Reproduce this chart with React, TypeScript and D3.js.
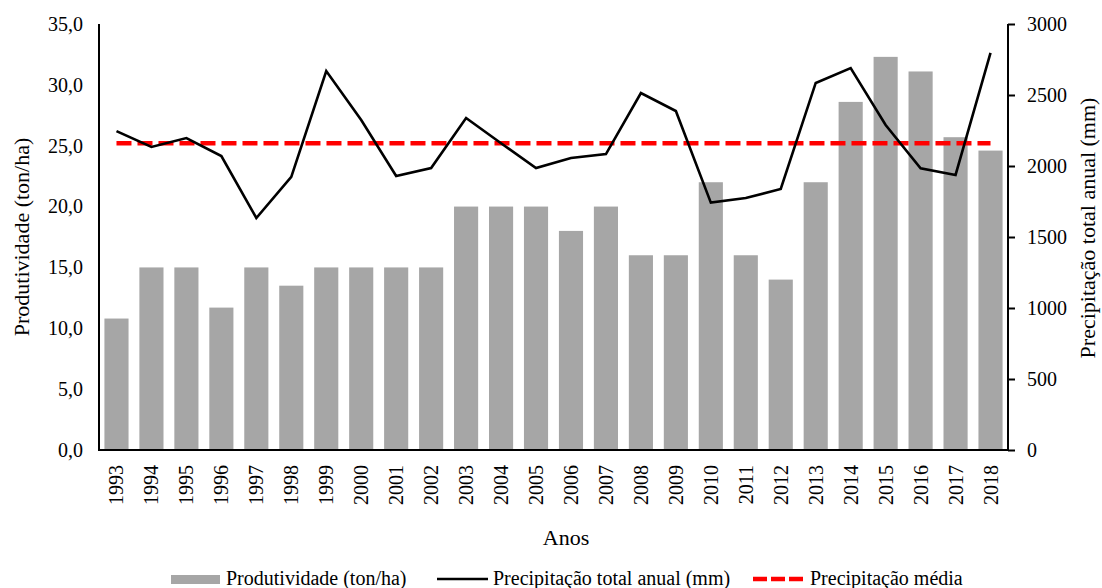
import * as d3 from 'd3';
import { useEffect, useRef } from 'react';

const years = [
  '1993', '1994', '1995', '1996', '1997', '1998', '1999', '2000', '2001', '2002', '2003', '2004', '2005',
  '2006', '2007', '2008', '2009', '2010', '2011', '2012', '2013', '2014', '2015', '2016', '2017', '2018'
];

// Produtividade (ton/ha)
const productivity = [
  10.8, 15, 15, 11.7, 15, 13.5, 15, 15, 15, 15, 20, 20, 20,
  18, 20, 16, 16, 22, 16, 14, 22, 28.6, 32.3, 31.1, 25.7, 24.6
];

// Precipitação total anual (mm)
const precipitation = [
  2246, 2134, 2197, 2070, 1634, 1923, 2669, 2324, 1930, 1986, 2338, 2160, 1986,
  2056, 2084, 2514, 2387, 1742, 1775, 1838, 2585, 2690, 2289, 1984, 1937, 2796
];

const precipitationMean = 2160;

const leftTicks = [0, 5, 10, 15, 20, 25, 30, 35];
const rightTicks = [0, 500, 1000, 1500, 2000, 2500, 3000];

const WIDTH = 1102;
const HEIGHT = 588;
const FONT = '"Liberation Serif", "Times New Roman", serif';

export default function App() {
  const svgRef = useRef<SVGSVGElement>(null);

  const drawChart = () => {
    const svgEl = d3.select(svgRef.current);
    svgEl.selectAll('*').remove();

    const plot = { left: 99, right: 1008, top: 24, bottom: 450 };

    const xScale = d3.scaleBand().domain(years).range([plot.left, plot.right]).paddingInner(0.31).paddingOuter(0.155);
    const xCenter = (year: string) => xScale(year)! + xScale.bandwidth() / 2;
    const yLeft = d3.scaleLinear().domain([0, 35]).range([plot.bottom, plot.top]);
    const yRight = d3.scaleLinear().domain([0, 3000]).range([plot.bottom, plot.top]);

    // bars
    svgEl
      .append('g')
      .selectAll('rect')
      .data(years)
      .enter()
      .append('rect')
      .attr('x', (d) => xScale(d)!)
      .attr('width', xScale.bandwidth())
      .attr('y', (_, i) => yLeft(productivity[i]))
      .attr('height', (_, i) => yLeft(0) - yLeft(productivity[i]))
      .attr('fill', '#a6a6a6');

    // mean precipitation
    svgEl
      .append('line')
      .attr('x1', xCenter(years[0]))
      .attr('x2', xCenter(years[years.length - 1]))
      .attr('y1', yRight(precipitationMean))
      .attr('y2', yRight(precipitationMean))
      .attr('stroke', '#ff0000')
      .attr('stroke-width', 4.5)
      .attr('stroke-dasharray', '15 6');

    // precipitation line
    const line = d3
      .line<number>()
      .x((_, i) => xCenter(years[i]))
      .y((d) => yRight(d));

    svgEl
      .append('path')
      .datum(precipitation)
      .attr('d', line)
      .attr('fill', 'none')
      .attr('stroke', '#000')
      .attr('stroke-width', 2.6);

    // left axis
    svgEl
      .append('g')
      .attr('transform', `translate(${plot.left},0)`)
      .call(
        d3
          .axisLeft(yLeft)
          .tickValues(leftTicks)
          .tickSize(0)
          .tickPadding(16)
          .tickFormat((d) => d3.format('.1f')(d as number).replace('.', ','))
      )
      .call((g) => {
        g.select('.domain').attr('stroke', '#000').attr('stroke-width', 2).attr('d', `M0,${plot.top}V${plot.bottom}`);
        g.selectAll('text').attr('font-family', FONT).attr('font-size', 20).attr('fill', '#000');
      });

    // right axis
    svgEl
      .append('g')
      .attr('transform', `translate(${plot.right},0)`)
      .call(d3.axisRight(yRight).tickValues(rightTicks).tickSize(7).tickPadding(12).tickFormat(d3.format('d')))
      .call((g) => {
        g.select('.domain').attr('stroke', '#000').attr('stroke-width', 2).attr('d', `M0,${plot.top}V${plot.bottom}`);
        g.selectAll('.tick line').attr('stroke', '#000').attr('stroke-width', 2);
        g.selectAll('text').attr('font-family', FONT).attr('font-size', 20).attr('fill', '#000');
      });

    // bottom axis
    svgEl
      .append('g')
      .attr('transform', `translate(0,${plot.bottom})`)
      .call(d3.axisBottom(xScale).tickSize(0))
      .call((g) => {
        g.select('.domain').attr('stroke', '#000').attr('stroke-width', 2).attr('d', `M${plot.left - 1},0H${plot.right + 1}`);
        g.selectAll('text')
          .attr('font-family', FONT)
          .attr('font-size', 20)
          .attr('fill', '#000')
          .attr('text-anchor', 'end')
          .attr('dy', '0.35em')
          .attr('transform', 'translate(0,15) rotate(-90)')
          .attr('x', 0)
          .attr('y', 0);
      });

    // axis titles
    svgEl
      .append('text')
      .attr('transform', `translate(29,${(plot.top + plot.bottom) / 2}) rotate(-90)`)
      .attr('text-anchor', 'middle')
      .attr('font-family', FONT)
      .attr('font-size', 22)
      .text('Produtividade (ton/ha)');

    svgEl
      .append('text')
      .attr('transform', `translate(1095,228) rotate(-90)`)
      .attr('text-anchor', 'middle')
      .attr('font-family', FONT)
      .attr('font-size', 22)
      .text('Precipitação total anual (mm)');

    svgEl
      .append('text')
      .attr('x', 566)
      .attr('y', 545)
      .attr('text-anchor', 'middle')
      .attr('font-family', FONT)
      .attr('font-size', 22)
      .text('Anos');

    // legend
    const legend = svgEl.append('g').attr('font-family', FONT).attr('font-size', 20);
    const legendY = 579;

    legend.append('rect').attr('x', 171).attr('y', legendY - 4).attr('width', 49).attr('height', 9).attr('fill', '#a6a6a6');
    legend.append('text').attr('x', 226).attr('y', legendY + 6).text('Produtividade (ton/ha)');

    legend
      .append('line')
      .attr('x1', 437)
      .attr('x2', 488)
      .attr('y1', legendY)
      .attr('y2', legendY)
      .attr('stroke', '#000')
      .attr('stroke-width', 2.6);
    legend.append('text').attr('x', 493).attr('y', legendY + 6).text('Precipitação total anual (mm)');

    legend
      .append('line')
      .attr('x1', 753)
      .attr('x2', 803)
      .attr('y1', legendY)
      .attr('y2', legendY)
      .attr('stroke', '#ff0000')
      .attr('stroke-width', 4.5)
      .attr('stroke-dasharray', '14 4');
    legend.append('text').attr('x', 810).attr('y', legendY + 6).text('Precipitação média');
  };

  useEffect(() => {
    drawChart();
  }, []);

  return (
    <div style={{ position: 'absolute', left: 0, top: 0, width: WIDTH, height: HEIGHT, background: '#fff' }}>
      <svg ref={svgRef} width={WIDTH} height={HEIGHT} style={{ display: 'block' }} />
    </div>
  );
}
